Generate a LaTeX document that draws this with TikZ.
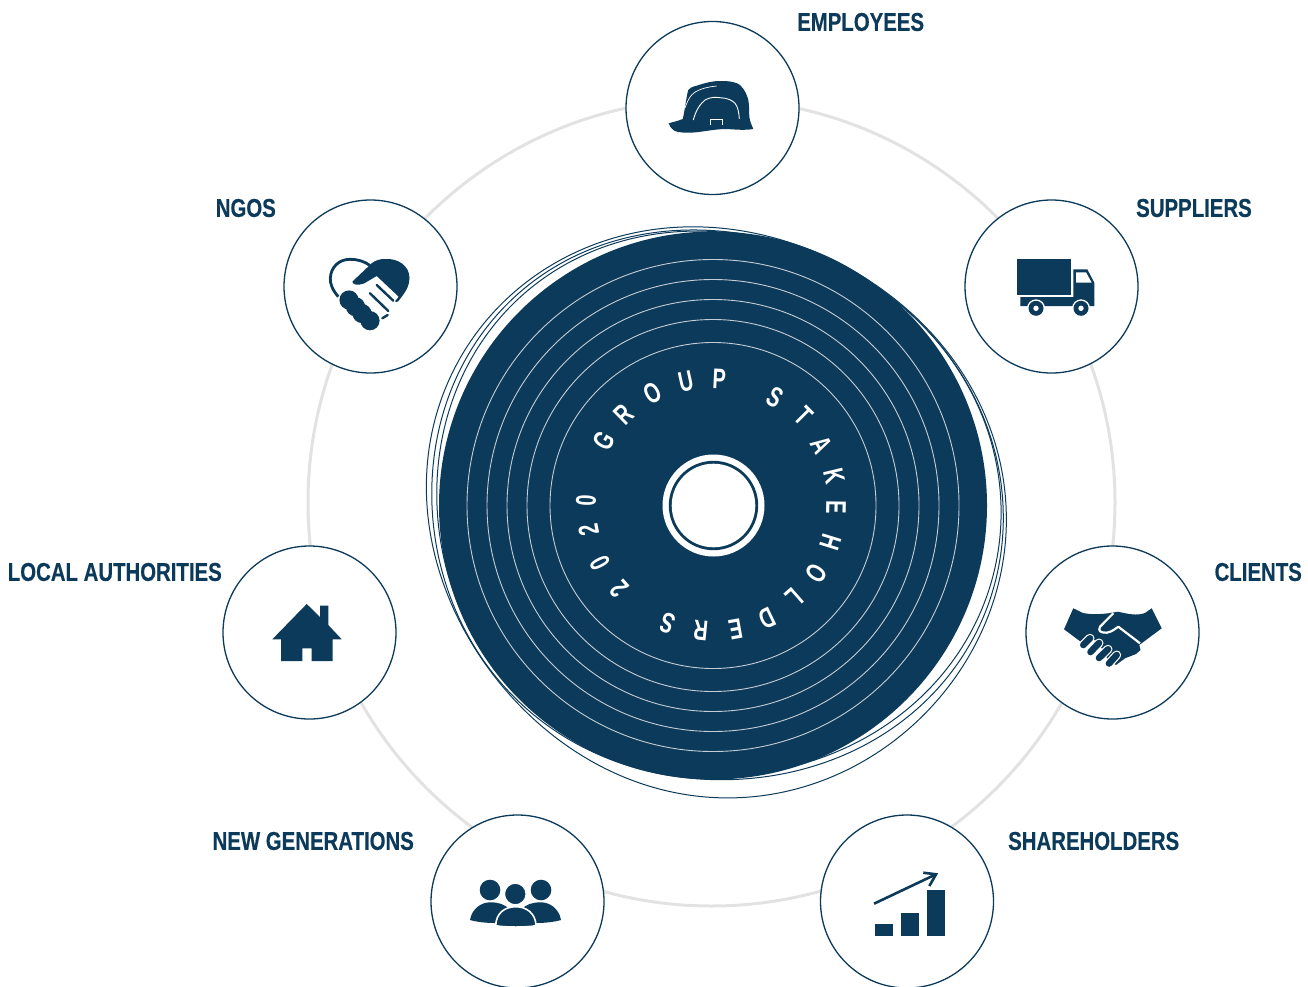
\documentclass[tikz,border=0pt]{standalone}
\usepackage{fontspec}
\setmainfont[FakeStretch=0.79,BoldFeatures={FakeBold=0.35}]{Liberation Sans}
\newfontfamily\ringfont[FakeStretch=0.7]{Liberation Sans Bold}
\definecolor{navy}{HTML}{0C3A5A}
\definecolor{ringgray}{HTML}{E2E2E2}
\definecolor{groove}{HTML}{C4CDD4}
\tikzset{
  iconcircle/.style={circle,draw=navy,fill=white,line width=1.3pt,minimum size=173pt,inner sep=0pt},
  stakelabel/.style={text=navy,font=\bfseries\fontsize{25.8}{26}\selectfont,inner sep=0pt},
  ringletter/.style={text=white,font=\ringfont\fontsize{28.5}{29}\selectfont,inner sep=0pt},
  sketch/.style={draw=navy,line width=1pt},
  grooveline/.style={draw=groove,line width=.9pt},
  blobplot/.style={domain=0:360,samples=181,smooth},
}
\begin{document}
\begin{tikzpicture}[x=1pt,y=-1pt]
\useasboundingbox (0,0) rectangle (1308,987);
\clip (0,0) rectangle (1308,987);
% big grey ring
\draw[ringgray,line width=3pt] (711.5,502.5) circle[radius=403.5];
% sketched outlines
\begin{scope}[shift={(713,505.5)}]
\draw[sketch] plot[blobplot] ({\x}:{286.5+2.3*cos(\x)+4.75*sin(\x)+2.25*cos(2*\x)+8.75*sin(2*\x)+1.2*cos(3*\x)-2.25*sin(3*\x)+.75*cos(4*\x)}) -- cycle;
\draw[sketch] plot[blobplot] ({\x}:{280.9+2.1*cos(\x)+5.5*cos(2*\x)+6.25*sin(2*\x)+2.4*cos(3*\x)+.4*sin(3*\x)-.9*cos(4*\x)}) -- cycle;
\draw[sketch] plot[blobplot] ({\x}:{277.6+3.2*cos(\x)-1.9*sin(\x)+5*cos(2*\x)+4.75*sin(2*\x)+2.8*cos(3*\x)+.1*sin(3*\x)-.6*cos(4*\x)}) -- cycle;
\end{scope}
% disc
\fill[navy] (713,505.5) circle[radius=274];
\foreach \r in {246,226,206,186,163} \draw[grooveline] (713,505.5) circle[radius=\r];
\fill[white] (713.5,505.5) circle[radius=51];
\fill[navy] (713.5,505.5) circle[radius=44.7];
\fill[white] (713.5,505.5) circle[radius=41.8];
% ring text
\begin{scope}[shift={(713,505.5)}]
\foreach \c/\a/\r [count=\i] in {G/210.4/127,R/225.6/127,O/241.6/127.6,U/257.6/127,P/272.8/127,S/300/124.4,T/315.3/127,A/330.7/124.6,K/346.4/124.5,E/1/123,H/17.3/123,O/33.5/123.6,L/48.7/122.8,D/64.4/125.6,E/79.7/126,R/95.6/125.6,S/111.2/126,2/138.2/125.6,0/153/127,2/168.7/127,0/182.3/127}
  \node[ringletter,rotate=-\a-90] (t\i) at (\a:\r) {\c};
\end{scope}
% icon circles
\node[iconcircle] (employees) at (712.5,108) {};
\node[iconcircle] (suppliers) at (1051.5,286.5) {};
\node[iconcircle] (clients) at (1112.5,632.5) {};
\node[iconcircle] (shareholders) at (907,901.5) {};
\node[iconcircle] (newgen) at (517.5,901.5) {};
\node[iconcircle] (local) at (309.5,632.5) {};
\node[iconcircle] (ngos) at (370.5,286.5) {};
% labels
\node[stakelabel,anchor=west] (l1) at (797,22) {EMPLOYEES};
\node[stakelabel,anchor=west] (l2) at (1136,208) {SUPPLIERS};
\node[stakelabel,anchor=east] (l3) at (1302,572) {CLIENTS};
\node[stakelabel,anchor=west] (l4) at (1008,841) {SHAREHOLDERS};
\node[stakelabel,anchor=east] (l5) at (414,841) {NEW GENERATIONS};
\node[stakelabel,anchor=east] (l6) at (222,572) {LOCAL AUTHORITIES};
\node[stakelabel,anchor=east] (l7) at (276,208) {NGOS};
% helmet
\fill[navy] (668.7,123.3) .. controls (673,122) and (678,121) .. (682.7,119) .. controls (685,110) and (686,98) .. (688.3,90) .. controls (692,86) and (695,86.5) .. (696.7,85.7) .. controls (705,83) and (712,81) .. (720,81) .. controls (730,81) and (736,82) .. (740,85) .. controls (745,90) and (747,95) .. (748.3,100) .. controls (749.5,107) and (749,112) .. (749.3,116.7) .. controls (750,122) and (752,126) .. (753.3,129) .. controls (745,130.5) and (735,129.5) .. (726.7,129) .. controls (712,129) and (700,133) .. (686.7,132.7) .. controls (680,132.5) and (676,132) .. (673.3,130) .. controls (671,128) and (669.5,126) .. (668.7,123.3) -- cycle;
\draw[white,line width=.7pt] (685,108) .. controls (687,102) and (689,98) .. (691.7,95) .. controls (696,90) and (706,87) .. (716.7,86);
\draw[white,line width=.9pt] (693.3,120) .. controls (696,110) and (700,104) .. (705,100) .. controls (710,97) and (716,97) .. (720,97.7) .. controls (727,98) and (732,100) .. (735,103.3) .. controls (738,107) and (739,113) .. (739.3,119);
\draw[white,line width=.7pt] (710,125.5) -- (710,119.3) -- (722.7,119.3) -- (722.7,125.5);
% truck
\fill[navy] (1017,259) rectangle (1071,295);
\fill[navy] (1020.3,297) -- (1073.3,297) -- (1073.3,269.3) -- (1087.3,269.3) -- (1094.3,282.7) -- (1094.3,306) -- (1020.3,306) -- cycle;
\fill[white] (1076,272.3) -- (1086,272.3) -- (1091.7,282.7) -- (1076,282.7) -- cycle;
\foreach \x in {1036,1081} {
  \fill[white] (\x,308.3) circle[radius=9];
  \fill[navy] (\x,308.3) circle[radius=7.5];
  \fill[white] (\x,308.3) circle[radius=2.7];
}
% clients handshake
\fill[navy] (1073.3,608.3) -- (1083,613) .. controls (1092,615) and (1105,614) .. (1112,612.7) -- (1118,611.7) .. controls (1128,614) and (1137,616) .. (1145,613) -- (1151.7,608.3) -- (1161.7,628.3) -- (1139.3,645) -- (1140.5,650) -- (1136,654) -- (1125,658.3) -- (1116,665) -- (1108,660) -- (1100,645) -- (1090,636) -- (1080.7,641.7) -- (1064,629.3) -- cycle;
\draw[white,line width=2.2pt,line join=round] (1113.3,613.3) -- (1100,626.7) .. controls (1098,631) and (1100,632.7) .. (1106.7,632.7) .. controls (1112,632) and (1116,628) .. (1118.3,626.7) -- (1140,643.3);
\foreach \ax/\ay/\bx/\by in {1083.3/645/1090/638.3,1090.5/652/1099/643,1099/658/1108/649.3,1109/663.5/1116.7/655}{
  \draw[white,line width=9pt,line cap=round] (\ax,\ay) -- (\bx,\by);
}
\foreach \ax/\ay/\bx/\by in {1083.3/645/1090/638.3,1090.5/652/1099/643,1099/658/1108/649.3,1109/663.5/1116.7/655}{
  \draw[navy,line width=6.6pt,line cap=round] (\ax,\ay) -- (\bx,\by);
}
% chart
\fill[navy] (875,924) rectangle (893,936);
\fill[navy] (901,913) rectangle (919,936);
\fill[navy] (927,890) rectangle (945,936);
\draw[navy,line width=2.6pt] (874,903.7) -- (936,874.3);
\draw[navy,line width=2.6pt] (923.3,872.7) -- (936,874.3) -- (929.3,886);
% people
\fill[navy] (490,890) circle[radius=10.3];
\fill[navy] (541,890) circle[radius=10.3];
\fill[navy] (470,920) .. controls (472,908) and (482,902.3) .. (490,902.3) .. controls (498,902.3) and (505,904) .. (510,910) -- (495,923) .. controls (486,923) and (477,922) .. (470,920) -- cycle;
\fill[navy] (561,920) .. controls (559,908) and (549,902.3) .. (541,902.3) .. controls (533,902.3) and (526,904) .. (521,910) -- (536,923) .. controls (545,923) and (554,922) .. (561,920) -- cycle;
\filldraw[fill=navy,draw=white,line width=1.2pt] (515.3,894) circle[radius=10.8];
\filldraw[fill=navy,draw=white,line width=1.6pt] (495.7,925.7) .. controls (496,913) and (505,906.7) .. (515.7,906.7) .. controls (526,906.7) and (535.7,913) .. (536,925.7) .. controls (525,927.5) and (506,927.5) .. (495.7,925.7) -- cycle;
% house
\fill[navy] (306.7,604) -- (320,617) -- (320,605.7) -- (328.3,605.7) -- (328.3,625) -- (341.7,639.3) -- (332.7,639.3) -- (332.7,661) -- (311.7,661) -- (311.7,648.3) -- (302.3,648.3) -- (302.3,661) -- (281,661) -- (281,639.3) -- (272.3,639.3) -- cycle;
% ngo heart
\draw[navy,line width=2.8pt] (338.3,296.7) .. controls (332.5,290) and (330,284) .. (330.3,278) .. controls (331,267) and (339,259.3) .. (350,259.3) .. controls (357,259.3) and (364,261) .. (370,265.5);
\fill[navy] (352.3,281.7) -- (371.7,263.3) .. controls (376,260) and (380,259) .. (385,259) .. controls (398,258) and (409.5,266) .. (409.5,278) .. controls (409.5,285) and (406,291) .. (403,295) -- (398.5,301) .. controls (397.5,302.3) and (396,302.3) .. (395,301.3) -- (398.7,296.7) -- (376.7,276) -- (364,283.5) .. controls (358,285.5) and (353,285) .. (352.3,281.7) -- cycle;
\draw[navy,line width=2.4pt,line cap=round] (376.7,285) -- (393.3,300.7);
\draw[navy,line width=2.4pt,line cap=round] (370,293.3) -- (388.3,311);
\draw[navy,line width=2.4pt,line cap=round] (382.3,318.3) -- (387.7,315);
\draw[navy,line width=15pt,line cap=round] (350,300.5) -- (369.5,320);
\foreach \p in {(349,300),(355.5,306.7),(362,313.5),(370,320.7)}
  \fill[navy] \p circle[radius=9.6];
\end{tikzpicture}
\end{document}
